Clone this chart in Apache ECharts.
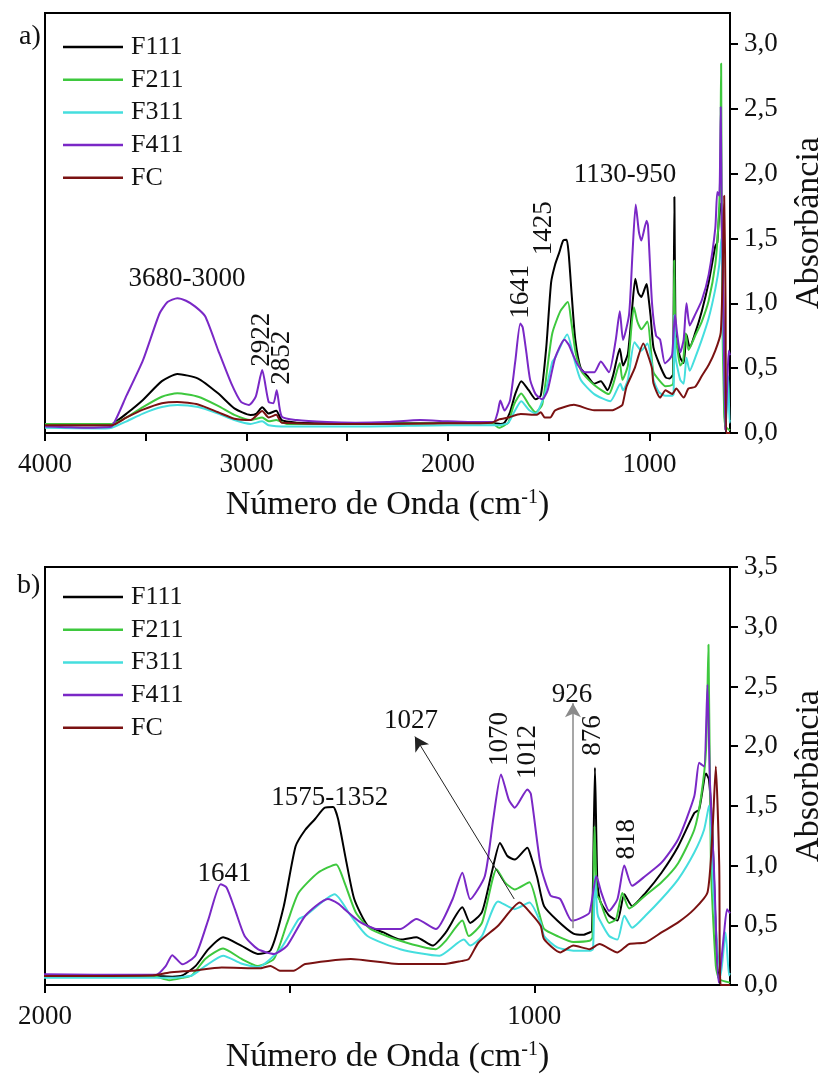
<!DOCTYPE html>
<html><head><meta charset="utf-8">
<script src="https://cdn.jsdelivr.net/npm/echarts@6/dist/echarts.min.js"></script>
<style>html,body{margin:0;padding:0;background:#fff}#c{width:834px;height:1075px}</style>
</head><body><div id="c"></div>
<script>
// ---------------- DATA ----------------
const seriesNames = ['F111', 'F211', 'F311', 'F411', 'FC'];

const f111Wn  = [4000,3850,3700,3669,3595,3514,3420,3343,3240,3141,3060,2980,2950,2922,2890,2852,2825,2750,2400,2100,2000,1773,1740,1719,1692,1666,1636,1599,1565,1539,1512,1488,1468,1448,1428,1411,1401,1385,1368,1341,1308,1274,1241,1208,1181,1147,1131,1107,1087,1070,1055,1040,1014,1007,994,980,953,920,900,887,882,876,871,865,847,830,816,800,773,740,706,673,663,649,643,636,626,618,600];
const f111Abs = [0.06,0.06,0.06,0.065,0.15,0.255,0.40,0.455,0.42,0.306,0.19,0.139,0.15,0.198,0.15,0.172,0.10,0.08,0.075,0.075,0.08,0.075,0.07,0.08,0.16,0.30,0.40,0.33,0.26,0.29,0.66,1.16,1.30,1.39,1.485,1.49,1.39,1.05,0.72,0.50,0.44,0.38,0.40,0.33,0.44,0.65,0.52,0.61,0.94,1.19,1.08,1.05,1.15,1.08,0.90,0.66,0.54,0.43,0.42,0.44,0.45,1.82,0.85,0.70,0.58,0.54,0.76,0.66,0.77,0.94,1.16,1.44,1.47,1.77,1.72,1.27,0.16,0.0,0.0];

const f211Wn  = [4000,3700,3669,3595,3514,3420,3343,3240,3141,3060,2980,2922,2890,2852,2800,2400,2000,1780,1746,1719,1700,1672,1636,1599,1565,1532,1505,1482,1442,1405,1388,1365,1335,1274,1201,1181,1147,1134,1107,1077,1060,1040,1010,990,980,953,920,887,881,877,872,867,847,833,820,806,773,740,706,673,659,649,644,639,629,622,600];
const f211Abs = [0.07,0.07,0.07,0.12,0.20,0.28,0.306,0.28,0.21,0.14,0.10,0.12,0.09,0.10,0.07,0.07,0.075,0.075,0.04,0.06,0.08,0.22,0.305,0.22,0.16,0.22,0.52,0.77,0.94,1.01,0.86,0.61,0.47,0.37,0.30,0.37,0.54,0.41,0.52,0.97,0.86,0.80,0.86,0.60,0.47,0.41,0.36,0.37,0.40,1.33,0.75,0.72,0.52,0.55,0.77,0.64,0.75,0.86,1.02,1.30,1.58,1.97,2.85,1.0,0.16,0.05,0.02];

const f311Wn  = [4000,3700,3669,3595,3514,3420,3343,3240,3141,3060,2980,2922,2890,2800,2400,2000,1780,1746,1700,1672,1636,1599,1565,1519,1482,1468,1408,1375,1341,1274,1194,1144,1131,1107,1074,1040,1010,987,980,953,920,887,880,876,871,867,847,830,816,800,773,740,706,673,653,643,633,619,609,602,600];
const f311Abs = [0.04,0.035,0.04,0.09,0.15,0.20,0.216,0.20,0.15,0.10,0.07,0.09,0.06,0.05,0.05,0.06,0.06,0.06,0.08,0.16,0.245,0.18,0.15,0.30,0.55,0.58,0.76,0.58,0.41,0.30,0.245,0.38,0.33,0.41,0.70,0.635,0.69,0.52,0.41,0.315,0.287,0.287,0.30,0.91,0.60,0.55,0.41,0.38,0.58,0.48,0.58,0.72,0.885,1.11,1.30,1.50,0.72,0.08,0.44,0.08,0.10];

const f411Wn  = [4000,3900,3800,3700,3669,3595,3514,3432,3392,3343,3300,3254,3205,3141,3076,3027,2988,2954,2922,2890,2866,2850,2825,2750,2600,2460,2300,2137,2000,1900,1773,1753,1740,1719,1692,1666,1641,1629,1612,1592,1565,1532,1505,1468,1422,1400,1388,1355,1321,1274,1241,1201,1167,1147,1131,1101,1084,1068,1052,1040,1014,1007,987,967,947,923,900,887,873,863,847,830,816,800,773,740,706,673,663,653,646,641,633,623,612,606,600];
const f411Abs = [0.05,0.045,0.04,0.045,0.05,0.29,0.56,0.92,1.01,1.04,1.02,0.975,0.90,0.64,0.385,0.24,0.216,0.28,0.486,0.24,0.23,0.33,0.126,0.10,0.085,0.08,0.085,0.10,0.09,0.085,0.085,0.16,0.25,0.173,0.25,0.55,0.844,0.816,0.635,0.41,0.30,0.26,0.33,0.58,0.72,0.68,0.635,0.524,0.468,0.468,0.552,0.468,0.718,0.94,0.718,0.913,1.386,1.763,1.55,1.485,1.638,1.60,1.0,0.75,0.72,0.537,0.57,0.607,0.913,0.774,0.621,0.72,1.0,0.83,0.913,1.024,1.22,1.58,1.86,1.83,2.515,1.693,1.0,0.02,0.44,0.635,0.6];

const fcWn  = [4000,3700,3669,3595,3514,3420,3343,3240,3141,3060,2980,2922,2890,2852,2825,2400,2000,1780,1746,1700,1639,1560,1539,1520,1492,1468,1375,1274,1187,1150,1134,1114,1074,1030,1007,987,980,947,920,887,867,830,806,773,740,706,673,646,636,629,622,619,600];
const fcAbs = [0.06,0.06,0.06,0.12,0.18,0.23,0.24,0.22,0.16,0.11,0.10,0.17,0.12,0.14,0.08,0.07,0.075,0.08,0.105,0.12,0.146,0.14,0.16,0.12,0.12,0.175,0.217,0.175,0.175,0.20,0.217,0.356,0.496,0.69,0.60,0.496,0.384,0.273,0.33,0.30,0.343,0.273,0.343,0.356,0.44,0.524,0.635,0.774,1.27,1.83,1.0,0.0,0.0];

// tick labels
const xTicksTop = [4000, 3500, 3000, 2500, 2000, 1500, 1000];
const xLabelsTop = [4000, 3000, 2000, 1000];
const xTicksBottom = [2000, 1500, 1000];
const xLabelsBottom = [2000, 1000];
const yTicksTop = [0, 0.5, 1.0, 1.5, 2.0, 2.5, 3.0];
const yTicksBottom = [0, 0.5, 1.0, 1.5, 2.0, 2.5, 3.0, 3.5];

// annotations (text, wavenumber, absorbance, rotation)
const annotTopText = ['3680-3000', '2922', '2852', '1641', '1425', '1130-950'];
const annotTopWn   = [3295, 2925, 2823, 1636, 1524, 1121];
const annotTopAbs  = [1.19, 0.72, 0.58, 1.09, 1.58, 1.99];
const annotTopRot  = [0, 90, 90, 90, 90, 0];

const annotBotText = ['1641', '1575-1352', '1027', '926', '1070', '1012', '876', '818'];
const annotBotWn   = [1633, 1418, 1252, 923, 1071, 1013, 881, 810];
const annotBotAbs  = [0.93, 1.57, 2.21, 2.43, 2.06, 1.95, 2.09, 1.22];
const annotBotRot  = [0, 0, 0, 0, 90, 90, 90, 90];

// arrows: [fromWn, fromAbs, toWn, toAbs]
const arrow1027 = [1041, 0.72, 1244, 2.08];
const arrow926  = [921, 0.476, 921, 2.36];

// ---------------- CHART ----------------
const FONT = 'Liberation Serif';
const colors = ['#000000', '#3ec83e', '#45dede', '#7a28c6', '#7a1212'];
const wnSets = [f111Wn, f211Wn, f311Wn, f411Wn, fcWn];
const absSets = [f111Abs, f211Abs, f311Abs, f411Abs, fcAbs];
wnSets.forEach((w, i) => { if (w.length !== absSets[i].length) throw new Error('length mismatch ' + seriesNames[i] + ' ' + w.length + ' vs ' + absSets[i].length); });

const pairs = i => wnSets[i].map((w, k) => [w, absSets[i][k]]);
const fmtComma = v => v.toFixed(1).replace('.', ',');

function xAxis(gridIndex, min, max, ticks, labels) {
  return {
    type: 'value', gridIndex, inverse: true, min, max,
    axisLine: { show: true, onZero: false, lineStyle: { color: '#000', width: 2 } },
    axisTick: { show: true, inside: false, length: 8, customValues: ticks, lineStyle: { color: '#000', width: 2 } },
    axisLabel: { show: true, customValues: labels, margin: 18, color: '#111', fontFamily: FONT, fontSize: 27, formatter: v => String(v) },
    splitLine: { show: false },
    name: 'Número de Onda (cm{sup|-1})',
    nameLocation: 'middle', nameGap: 55,
    nameTextStyle: { color: '#111', fontFamily: FONT, fontSize: 34,
      rich: { sup: { fontFamily: FONT, fontSize: 20, verticalAlign: 'top', color: '#111' } } }
  };
}
function yAxis(gridIndex, max, ticks) {
  return {
    type: 'value', gridIndex, position: 'right', min: 0, max,
    axisLine: { show: true, lineStyle: { color: '#000', width: 2 } },
    axisTick: { show: true, inside: false, length: 8, customValues: ticks, lineStyle: { color: '#000', width: 2 } },
    axisLabel: { show: true, customValues: ticks, margin: 14, color: '#111', fontFamily: FONT, fontSize: 27, formatter: fmtComma },
    splitLine: { show: false },
    name: 'Absorbância', nameLocation: 'middle', nameRotate: 90, nameGap: 62,
    nameTextStyle: { color: '#111', fontFamily: FONT, fontSize: 34 }
  };
}

const series = [];
[0, 1].forEach(g => {
  seriesNames.forEach((n, i) => {
    series.push({
      type: 'line', name: n, xAxisIndex: g, yAxisIndex: g, data: pairs(i),
      symbol: 'none', showSymbol: false, smooth: 0.2, clip: true,
      lineStyle: { color: colors[i], width: 2 }, itemStyle: { color: colors[i] },
      emphasis: { disabled: true }
    });
  });
});

function annotSeries(g, texts, wns, abss, rots, arrows) {
  const s = {
    type: 'line', name: 'annot' + g, xAxisIndex: g, yAxisIndex: g, data: [],
    symbol: 'none', silent: true,
    markPoint: {
      symbol: 'circle', symbolSize: 1, silent: true, animation: false,
      itemStyle: { color: 'rgba(0,0,0,0)' },
      label: { show: true, position: 'inside', formatter: '{b}', color: '#111', fontFamily: FONT, fontSize: 27 },
      data: texts.map((t, k) => ({ name: t, coord: [wns[k], abss[k]], label: { rotate: rots[k] } }))
    }
  };
  if (arrows) {
    s.markLine = {
      silent: true, animation: false, symbol: ['none', 'arrow'], symbolSize: [12, 14],
      label: { show: false },
      data: arrows.map(a => [
        { coord: [a.v[0], a.v[1]], lineStyle: { color: a.color, width: a.width, type: 'solid' } },
        { coord: [a.v[2], a.v[3]] }
      ])
    };
  }
  return s;
}
series.push(annotSeries(0, annotTopText, annotTopWn, annotTopAbs, annotTopRot, null));
series.push(annotSeries(1, annotBotText, annotBotWn, annotBotAbs, annotBotRot, [
  { v: arrow1027, color: '#222', width: 1 },
  { v: arrow926, color: '#8a8a8a', width: 1.5 }
]));

function legend(top) {
  return {
    data: seriesNames, orient: 'vertical', left: 58, top,
    icon: 'rect', itemWidth: 60, itemHeight: 2.5, itemGap: 6.7,
    selectedMode: false,
    textStyle: { color: '#111', fontFamily: FONT, fontSize: 26, lineHeight: 26, padding: [0, 0, 0, 3] }
  };
}

const option = {
  animation: false,
  backgroundColor: '#fff',
  title: [
    { text: 'a)', left: 14, top: 18, textStyle: { color: '#111', fontFamily: FONT, fontSize: 28, fontWeight: 'normal' } },
    { text: 'b)', left: 12, top: 567, textStyle: { color: '#111', fontFamily: FONT, fontSize: 28, fontWeight: 'normal' } }
  ],
  legend: [legend(29), legend(579)],
  grid: [
    { left: 45, top: 13, width: 699, height: 420, show: true, borderColor: '#000', borderWidth: 2, backgroundColor: 'transparent', containLabel: false },
    { left: 45, top: 567, width: 699, height: 419, show: true, borderColor: '#000', borderWidth: 2, backgroundColor: 'transparent', containLabel: false }
  ],
  xAxis: [xAxis(0, 600, 4000, xTicksTop, xLabelsTop), xAxis(1, 600, 2000, xTicksBottom, xLabelsBottom)],
  yAxis: [yAxis(0, 3.24, yTicksTop), yAxis(1, 3.5, yTicksBottom)],
  series
};

const chart = echarts.init(document.getElementById('c'));
chart.setOption(option);
</script>
</body></html>
